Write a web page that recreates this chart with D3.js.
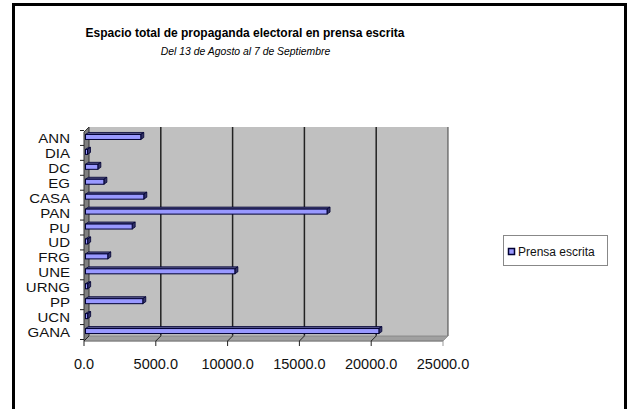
<!DOCTYPE html>
<html>
<head>
<meta charset="utf-8">
<script src="https://cdn.jsdelivr.net/npm/d3@7"></script>
<style>
  body { margin: 0; background: #fff; }
  svg { display: block; font-family: Arial, "Liberation Sans", sans-serif; }
</style>
</head>
<body>
<div id="chart"></div>
<script>
// Espacio total de propaganda electoral en prensa escrita
const categories = ['ANN', 'DIA', 'DC', 'EG', 'CASA', 'PAN', 'PU', 'UD', 'FRG', 'UNE', 'URNG', 'PP', 'UCN', 'GANA'];
const values = [3850, 140, 860, 1280, 4060, 16820, 3250, 150, 1550, 10400, 150, 3990, 150, 20430];
const xTicks = [0, 5000, 10000, 15000, 20000, 25000];
const seriesName = 'Prensa escrita';

const width = 629, height = 409;
const depth = 5; // 3D offset between back wall and front axis

const svg = d3.select('#chart').append('svg')
  .attr('width', width).attr('height', height);

// outer frame
svg.append('path')
  .attr('d', 'M13.5,409 V4.5 H625.5 V409')
  .attr('fill', 'none').attr('stroke', '#000').attr('stroke-width', 3);

// titles
svg.append('text')
  .attr('x', 245).attr('y', 37)
  .attr('text-anchor', 'middle')
  .attr('font-weight', 'bold').attr('font-size', 12)
  .text('Espacio total de propaganda electoral en prensa escrita');
svg.append('text')
  .attr('x', 245.5).attr('y', 55)
  .attr('text-anchor', 'middle')
  .attr('font-style', 'italic').attr('font-size', 10.4)
  .text('Del 13 de Agosto al 7 de  Septiembre');

// scales: front (axis), back (wall gridlines), bars
const xFront = d3.scaleLinear().domain([0, 25000]).range([84, 443]);
const xBack = d3.scaleLinear().domain([0, 25000]).range([84 + depth, 443 + depth]);
const xBar = d3.scaleLinear().domain([0, 25000]).range([85.5, 444.5]);
const y = d3.scaleBand().domain(categories).range([130.5, 339.5]);

const wallTop = 127, floorY = 336;
const plot = svg.append('g');

// back wall
plot.append('rect')
  .attr('x', xBack(0)).attr('y', wallTop)
  .attr('width', xBack(25000) - xBack(0)).attr('height', floorY - wallTop)
  .attr('fill', '#c0c0c0');
plot.append('line')
  .attr('x1', xBack(25000)).attr('x2', xBack(25000))
  .attr('y1', wallTop).attr('y2', floorY)
  .attr('stroke', '#404040').attr('stroke-width', 1);

// gridlines
plot.selectAll('.grid').data(xTicks.slice(1, -1)).join('line')
  .attr('class', 'grid')
  .attr('x1', d => xBack(d)).attr('x2', d => xBack(d))
  .attr('y1', wallTop).attr('y2', floorY)
  .attr('stroke', '#222').attr('stroke-width', 1.5);

// floor
plot.append('polygon')
  .attr('points', [[xBack(0), floorY], [xBack(25000), floorY], [xFront(25000), floorY + depth], [xFront(0), floorY + depth]].join(' '))
  .attr('fill', '#a0a0a0').attr('stroke', '#808080').attr('stroke-width', 0.8);

// left wall
plot.append('polygon')
  .attr('points', [[xFront(0), wallTop + depth], [xBack(0), wallTop], [xBack(0), floorY], [xFront(0), floorY + depth]].join(' '))
  .attr('fill', '#808080').attr('stroke', '#333').attr('stroke-width', 1);

// x axis ticks and line
plot.append('line')
  .attr('x1', xFront(0)).attr('x2', xFront(25000))
  .attr('y1', floorY + depth).attr('y2', floorY + depth)
  .attr('stroke', '#808080').attr('stroke-width', 1);
plot.selectAll('.xtick').data(xTicks).join('path')
  .attr('class', 'xtick')
  .attr('d', d => `M${xBack(d)},${floorY} L${xFront(d)},${floorY + depth} V${floorY + depth + 5}`)
  .attr('fill', 'none').attr('stroke', d => d === 25000 ? '#999' : '#222').attr('stroke-width', 1);
plot.selectAll('.xlabel').data(xTicks).join('text')
  .attr('class', 'xlabel')
  .attr('x', d => xFront(d)).attr('y', 369)
  .attr('text-anchor', 'middle').attr('font-size', 14.5)
  .attr('fill', '#111')
  .text(d => d.toFixed(1));

// y axis ticks and labels
const bounds = categories.map(c => y(c)).concat([y.range()[1]]);
plot.selectAll('.ytick').data(bounds).join('line')
  .attr('class', 'ytick')
  .attr('x1', 80).attr('x2', xFront(0))
  .attr('y1', d => d).attr('y2', d => d)
  .attr('stroke', '#222').attr('stroke-width', 1);
plot.selectAll('.ylabel').data(categories).join('text')
  .attr('class', 'ylabel')
  .attr('transform', c => `translate(70,${y(c) + y.bandwidth() / 2 + 5}) scale(1.2,1)`)
  .attr('text-anchor', 'end').attr('font-size', 12.5)
  .attr('fill', '#111')
  .text(c => c);

// 3D bars
const bh = 5, bd = 3;
const bars = plot.selectAll('.bar').data(categories.map((c, i) => ({c, v: values[i]}))).join('g')
  .attr('class', 'bar');
bars.append('polygon') // top face
  .attr('points', d => {
    const y0 = y(d.c) + y.bandwidth() / 2 - bh / 2 - 1, x0 = xBar(0), x1 = xBar(d.v);
    return [[x0, y0], [x0 + bd, y0 - 2], [x1 + bd, y0 - 2], [x1, y0]].join(' ');
  })
  .attr('fill', '#55558a').attr('stroke', '#000033').attr('stroke-width', 0.8);
bars.append('polygon') // side face
  .attr('points', d => {
    const y0 = y(d.c) + y.bandwidth() / 2 - bh / 2 - 1, x1 = xBar(d.v);
    return [[x1, y0], [x1 + bd, y0 - 2], [x1 + bd, y0 + bh - 2], [x1, y0 + bh]].join(' ');
  })
  .attr('fill', '#333366').attr('stroke', '#000033').attr('stroke-width', 0.8);
bars.append('rect') // front face
  .attr('x', xBar(0))
  .attr('y', d => y(d.c) + y.bandwidth() / 2 - bh / 2 - 1)
  .attr('width', d => xBar(d.v) - xBar(0))
  .attr('height', bh)
  .attr('fill', '#9999ff').attr('stroke', '#000033').attr('stroke-width', 1);

// legend
const legend = svg.append('g');
legend.append('rect')
  .attr('x', 503.5).attr('y', 235.5).attr('width', 104).attr('height', 30)
  .attr('fill', '#fff').attr('stroke', '#888').attr('stroke-width', 1);
legend.append('rect')
  .attr('x', 508.5).attr('y', 248.5).attr('width', 6).attr('height', 6)
  .attr('fill', '#9999ff').attr('stroke', '#000033').attr('stroke-width', 1.5);
legend.append('text')
  .attr('x', 518).attr('y', 256)
  .attr('font-size', 12).attr('fill', '#111')
  .text(seriesName);
</script>
</body>
</html>
